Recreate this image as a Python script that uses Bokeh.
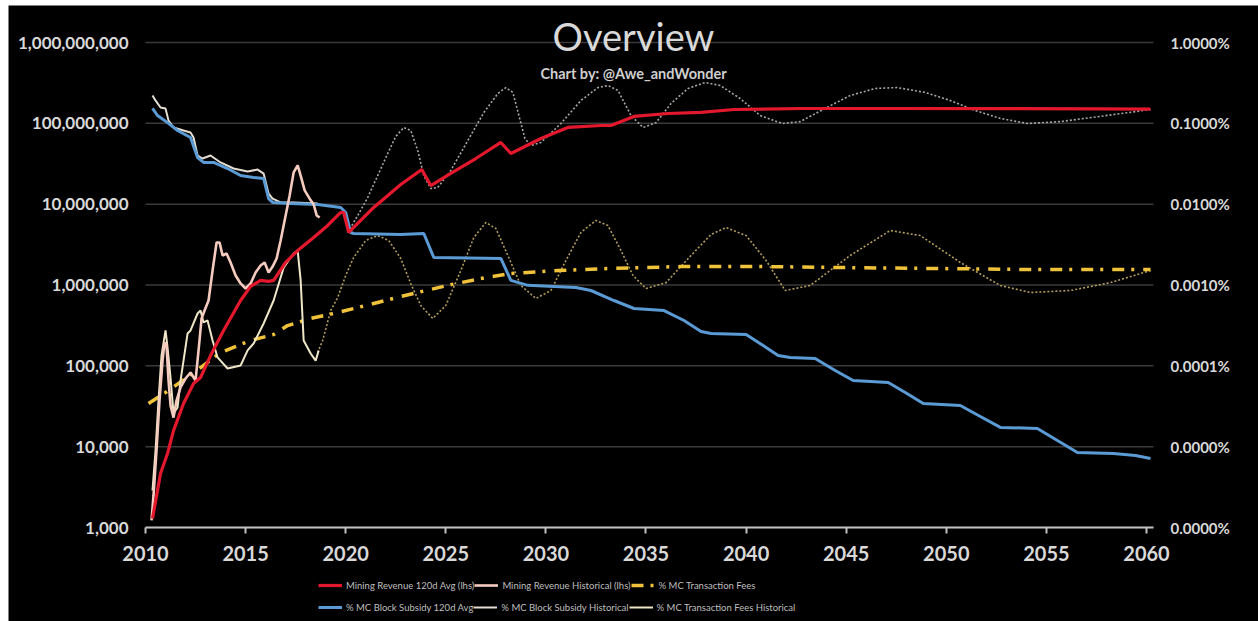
from bokeh.plotting import figure
from bokeh.models import (Range1d, LogScale, LogAxis, FixedTicker, NumeralTickFormatter,
                          PrintfTickFormatter, Legend, LegendItem, Label)
from bokeh.embed import file_html
from bokeh.resources import INLINE

# ---------------- data ----------------
# Mining Revenue 120d Avg (lhs, USD)
rev_avg_year = [2010.35, 2010.75, 2011.10, 2011.40, 2011.90, 2012.40, 2012.75, 2013.25, 2013.90,
                2014.75, 2015.25, 2015.75, 2016.15, 2016.40, 2017.00, 2017.60, 2018.40, 2019.10,
                2019.75, 2019.90, 2020.15, 2020.40, 2021.40, 2022.75, 2023.80, 2024.25, 2025.25,
                2026.50, 2027.75, 2028.25, 2028.75, 2029.75, 2031.10, 2032.75, 2033.25, 2034.40,
                2036.10, 2037.75, 2039.40, 2042.75, 2047.75, 2052.70, 2057.70, 2060.20]
rev_avg_usd = [1290, 4660, 8220, 15800, 34200, 60500, 71800, 134000, 274000,
               643000, 960000, 1140000, 1110000, 1140000, 1900000, 2670000, 3870000, 5450000,
               7890000, 7890000, 4470000, 5150000, 9100000, 17500000, 26800000, 17000000, 24000000,
               36700000, 58000000, 42400000, 48900000, 65000000, 88900000, 94000000, 94000000, 121600000,
               132400000, 136300000, 148300000, 152500000, 152500000, 152000000, 151000000, 150000000]

# Mining Revenue Historical (lhs, USD)
rev_hist_year = [2010.30, 2010.40, 2010.55, 2010.70, 2010.85, 2010.95, 2011.05, 2011.15, 2011.25,
                 2011.40, 2011.55, 2011.75, 2012.00, 2012.25, 2012.50, 2012.65, 2012.80, 2012.95,
                 2013.15, 2013.35, 2013.55, 2013.70, 2013.85, 2014.05, 2014.25, 2014.50, 2014.75,
                 2015.00, 2015.25, 2015.50, 2015.75, 2015.95, 2016.15, 2016.35, 2016.55, 2016.75,
                 2017.00, 2017.20, 2017.40, 2017.60, 2017.75, 2017.95, 2018.20, 2018.40, 2018.55, 2018.70]
rev_hist_usd = [1222, 2490, 8980, 37200, 116000, 194000, 178000, 65900, 32300,
                22900, 37200, 54000, 69700, 82800, 65900, 155000, 385000, 484000,
                643000, 1510000, 3360000, 3360000, 2320000, 2450000, 1900000, 1310000, 1045000,
                906000, 1045000, 1430000, 1740000, 1900000, 1430000, 1690000, 2130000, 3560000,
                7250000, 12800000, 24700000, 30100000, 22600000, 14800000, 11700000, 9910000, 7250000, 6840000]

# % MC Block Subsidy 120d Avg (rhs, %)
sub_avg_year = [2010.35, 2010.60, 2011.10, 2011.60, 2012.25, 2012.60, 2012.90, 2013.40, 2014.10,
                2014.75, 2015.40, 2015.90, 2016.15, 2016.35, 2017.25, 2018.60, 2019.75, 2020.00,
                2020.25, 2020.40, 2022.75, 2023.90, 2024.40, 2027.75, 2028.25, 2029.10, 2031.50,
                2032.25, 2033.40, 2034.40, 2035.90, 2036.90, 2037.75, 2038.25, 2040.00, 2040.85,
                2041.60, 2042.20, 2043.45, 2044.45, 2045.35, 2047.10, 2047.95, 2048.85, 2050.70,
                2051.70, 2052.70, 2054.55, 2055.55, 2056.55, 2058.35, 2059.45, 2060.20]
sub_avg_pct = [0.153, 0.125, 0.102, 0.0815, 0.0668, 0.0378, 0.0328, 0.0328, 0.0276,
               0.0226, 0.0214, 0.0208, 0.0117, 0.0105, 0.0102, 0.0099, 0.0091, 0.0079,
               0.00446, 0.00434, 0.00422, 0.00434, 0.00219, 0.00213, 0.00114, 0.00099, 0.00093,
               0.000855, 0.000643, 0.000512, 0.000483, 0.000364, 0.000266, 0.000251, 0.000244, 0.000178,
               0.000134, 0.000127, 0.000123, 0.0000875, 0.0000658, 0.0000622, 0.0000468, 0.0000342, 0.0000323,
               0.0000236, 0.0000173, 0.0000168, 0.0000119, 0.00000847, 0.00000823, 0.00000777, 0.00000713]

# % MC Block Subsidy Historical (rhs, %)
sub_hist_year = [2010.35, 2010.50, 2010.75, 2011.00, 2011.15, 2011.40, 2011.90, 2012.25, 2012.40,
                 2012.60, 2012.85, 2013.25, 2013.75, 2014.40, 2015.10, 2015.60, 2015.90, 2016.15,
                 2016.35, 2016.75, 2017.40, 2018.60]
sub_hist_pct = [0.221, 0.192, 0.157, 0.153, 0.108, 0.0888, 0.0815, 0.0770, 0.0668,
                0.0400, 0.0367, 0.0400, 0.0328, 0.0276, 0.0253, 0.0268, 0.0239, 0.0135,
                0.0117, 0.0105, 0.0105, 0.0102]

# % MC Transaction Fees (rhs, %)
fee_year = [2010.15, 2011.00, 2012.00, 2012.90, 2013.75, 2014.40, 2015.25, 2016.40, 2017.10,
            2018.25, 2019.40, 2021.00, 2022.75, 2025.25, 2026.75, 2028.25, 2030.60, 2033.10,
            2036.70, 2041.05, 2045.20, 2049.35, 2054.70, 2060.20]
fee_pct = [0.0000342, 0.0000468, 0.0000697, 0.000101, 0.000146, 0.000169, 0.000206, 0.000244, 0.000315,
           0.000385, 0.000444, 0.000557, 0.000721, 0.00101, 0.00120, 0.00139, 0.00151, 0.00160,
           0.00169, 0.00169, 0.00164, 0.00160, 0.00155, 0.00155]

# % MC Transaction Fees Historical (rhs, %)
fee_hist_year = [2010.35, 2010.50, 2010.65, 2010.80, 2011.00, 2011.10, 2011.25, 2011.40, 2011.60,
                 2011.75, 2011.90, 2012.10, 2012.25, 2012.60, 2012.75, 2012.90, 2013.10, 2013.35,
                 2013.60, 2014.10, 2014.75, 2015.10, 2015.40, 2015.90, 2016.40, 2016.90, 2017.15,
                 2017.40, 2017.60, 2017.75, 2017.90, 2018.25, 2018.50, 2018.65]
fee_hist_pct = [0.00000287, 0.00000896, 0.0000372, 0.000134, 0.000274, 0.000169, 0.0000716, 0.0000257, 0.0000305,
                0.0000658, 0.000116, 0.000251, 0.000274, 0.000444, 0.000483, 0.000344, 0.000364, 0.000206,
                0.000127, 0.0000927, 0.000101, 0.000155, 0.000189, 0.000334, 0.000643, 0.00164, 0.00201,
                0.00245, 0.00267, 0.00114, 0.000206, 0.000142, 0.000116, 0.000155]

# Projection of block subsidy share (dotted, rhs, %)
sub_proj_year = [2020.10, 2020.60, 2021.10, 2021.60, 2022.10, 2022.50, 2022.90, 2023.25, 2023.60,
                 2023.90, 2024.25, 2024.60, 2025.25, 2026.10, 2026.90, 2027.60, 2028.00, 2028.35,
                 2028.65, 2028.95, 2029.25, 2029.75, 2030.75, 2031.75, 2032.60, 2033.10, 2033.60,
                 2034.25, 2034.85, 2035.50, 2036.25, 2037.10, 2037.95, 2038.70, 2039.70, 2040.70,
                 2041.80, 2042.70, 2043.95, 2045.20, 2046.45, 2047.55, 2048.95, 2050.20, 2051.45,
                 2052.70, 2054.05, 2055.70, 2057.70, 2060.20]
sub_proj_pct = [0.00446, 0.00724, 0.0121, 0.0226, 0.0424, 0.0687, 0.0888, 0.0815, 0.0461,
                0.0226, 0.0156, 0.0161, 0.0261, 0.0613, 0.136, 0.234, 0.277, 0.241,
                0.125, 0.0649, 0.0532, 0.0579, 0.0995, 0.192, 0.277, 0.294, 0.255,
                0.125, 0.0888, 0.102, 0.176, 0.270, 0.320, 0.294, 0.203, 0.125,
                0.0995, 0.105, 0.153, 0.221, 0.270, 0.277, 0.241, 0.192, 0.144,
                0.115, 0.0995, 0.105, 0.122, 0.148]

# Projection of transaction fee share (dotted, rhs, %)
fee_proj_year = [2018.60, 2018.85, 2019.25, 2019.60, 2020.00, 2020.40, 2021.00, 2021.60, 2022.15,
                 2022.75, 2023.25, 2023.75, 2024.35, 2025.00, 2025.75, 2026.40, 2027.00, 2027.50,
                 2028.10, 2028.75, 2029.50, 2030.25, 2031.00, 2031.75, 2032.50, 2033.10, 2033.75,
                 2034.35, 2035.00, 2036.00, 2037.25, 2038.25, 2039.00, 2040.00, 2041.00, 2041.95,
                 2043.20, 2045.20, 2047.20, 2048.70, 2050.70, 2052.70, 2054.20, 2056.20, 2058.20, 2060.20]
fee_proj_pct = [0.000146, 0.000206, 0.000483, 0.000700, 0.00131, 0.00219, 0.00355, 0.00409, 0.00355,
                0.00213, 0.00104, 0.000557, 0.000385, 0.000557, 0.00151, 0.00387, 0.00593, 0.00500,
                0.00232, 0.000986, 0.000681, 0.000855, 0.00201, 0.00446, 0.00628, 0.00544, 0.00267,
                0.00131, 0.000905, 0.00107, 0.00232, 0.00422, 0.00514, 0.00409, 0.00201, 0.000855,
                0.000986, 0.00232, 0.00472, 0.00409, 0.00190, 0.000986, 0.000807, 0.000855, 0.00107, 0.00151]

x_ticks = [2010, 2015, 2020, 2025, 2030, 2035, 2040, 2045, 2050, 2055, 2060]
left_ticks = [1e3, 1e4, 1e5, 1e6, 1e7, 1e8, 1e9]
right_ticks = [1e-6, 1e-5, 1e-4, 1e-3, 1e-2, 1e-1, 1.0]
x_first, x_last = 2010.0, 2060.35   # extent of the plotted period (axis line, grid)

legend_labels = ["Mining Revenue 120d Avg (lhs)", "Mining Revenue Historical (lhs)",
                 "% MC Transaction Fees", "% MC Block Subsidy 120d Avg",
                 "% MC Block Subsidy Historical", "% MC Transaction Fees Historical"]

# ---------------- styling ----------------
FONT = "Lato"
RED = "#e3182d"
PINK = "#f6cbbf"
BLUE = "#5b9bd5"
WHITE = "#e4ddd2"
CREAM = "#eee6c6"
YELLOW = "#f0c23a"
GRAYDOT = "#a8a8a8"
YDOT = "#b39c5c"
TXT = "#d9d9d9"

W, H = 1250, 616
# layout of the value area inside the figure (px)
PX_LEFT, PX_RIGHT_OF_END = 137, 105
PX_TOP, PX_BOTTOM = 37, 94
DEC = (H - PX_TOP - PX_BOTTOM) / 6.0
PX_YEAR = (W - PX_LEFT - PX_RIGHT_OF_END) / (x_last - x_first)
x_lo = x_first - PX_LEFT / PX_YEAR
x_hi = x_last + PX_RIGHT_OF_END / PX_YEAR
y_top = 10 ** (9 + PX_TOP / DEC)
y_bot = 10 ** (3 - PX_BOTTOM / DEC)
pct_top = 10 ** (PX_TOP / DEC)
pct_bot = 10 ** (-6 - PX_BOTTOM / DEC)

p = figure(width=W, height=H, output_backend="svg", toolbar_location=None,
           y_axis_type="log", x_range=Range1d(x_lo, x_hi), y_range=Range1d(y_bot, y_top),
           min_border_left=0, min_border_right=0, min_border_top=0, min_border_bottom=0)
p.margin = (5, 0, 0, 8)
p.title.visible = False
p.background_fill_color = "black"
p.border_fill_color = "black"
p.outline_line_color = None

p.extra_y_ranges = {"pct": Range1d(pct_bot, pct_top)}
p.extra_y_scales = {"pct": LogScale()}

# horizontal grid lines, only across the plotted period
p.xgrid.visible = False
p.ygrid.visible = False
p.segment(x0=[x_first] * len(left_ticks), x1=[x_last] * len(left_ticks),
          y0=left_ticks, y1=left_ticks, line_color="#3a3a3a", line_width=1.5)

# x axis (drawn inside the frame at the 1,000 level)
xa = p.xaxis[0]
xa.fixed_location = 1e3
xa.bounds = (x_first, x_last)
xa.ticker = FixedTicker(ticks=x_ticks)
xa.axis_line_color = "#bfbfbf"
xa.axis_line_width = 2
xa.major_tick_line_color = "#bfbfbf"
xa.major_tick_line_width = 2
xa.major_tick_in = 0
xa.major_tick_out = 6
xa.minor_tick_line_color = None
xa.major_label_text_font = FONT
xa.major_label_text_font_style = "bold"
xa.major_label_text_font_size = "20px"
xa.major_label_text_color = TXT
xa.major_label_standoff = 12

# left axis
ya = p.yaxis[0]
ya.fixed_location = x_first
ya.ticker = FixedTicker(ticks=left_ticks)
ya.formatter = NumeralTickFormatter(format="0,0")
ya.axis_line_color = None
ya.major_tick_line_color = None
ya.minor_tick_line_color = None
ya.major_tick_out = 0
ya.major_tick_in = 0
ya.major_label_text_font = FONT
ya.major_label_text_font_style = "bold"
ya.major_label_text_font_size = "17px"
ya.major_label_text_color = TXT
ya.major_label_standoff = 17

# right axis
ra = LogAxis(y_range_name="pct", ticker=FixedTicker(ticks=right_ticks),
             formatter=PrintfTickFormatter(format="%.4f%%"), fixed_location=x_last)
ra.axis_line_color = None
ra.major_tick_line_color = None
ra.minor_tick_line_color = None
ra.major_tick_out = 0
ra.major_tick_in = 0
ra.major_label_text_font = FONT
ra.major_label_text_font_style = "bold"
ra.major_label_text_font_size = "15px"
ra.major_label_text_color = TXT
ra.major_label_standoff = 17
p.add_layout(ra, "right")

# ---------------- lines ----------------
p.line(sub_proj_year, sub_proj_pct, y_range_name="pct", line_color=GRAYDOT,
       line_width=1.6, line_dash="2 2")
p.line(fee_proj_year, fee_proj_pct, y_range_name="pct", line_color=YDOT,
       line_width=1.6, line_dash="2 2")
r_fee = p.line(fee_year, fee_pct, y_range_name="pct", line_color=YELLOW,
               line_width=3.5, line_dash="12 7 3 9")
r_feeh = p.line(fee_hist_year, fee_hist_pct, y_range_name="pct", line_color=CREAM, line_width=2)
r_subh = p.line(sub_hist_year, sub_hist_pct, y_range_name="pct", line_color=WHITE, line_width=2)
r_sub = p.line(sub_avg_year, sub_avg_pct, y_range_name="pct", line_color=BLUE, line_width=3)
r_revh = p.line(rev_hist_year, rev_hist_usd, line_color=PINK, line_width=2.6)
r_rev = p.line(rev_avg_year, rev_avg_usd, line_color=RED, line_width=3.2)

# legend: two rows of three entries, below the time axis
legend_renderers = [r_rev, r_revh, r_fee, r_sub, r_subh, r_feeh]
for row, loc in ((0, (310, 29)), (1, (310, 7))):
    items = [LegendItem(label=legend_labels[i], renderers=[legend_renderers[i]])
             for i in range(row * 3, row * 3 + 3)]
    lg = Legend(items=items, location=loc, orientation="horizontal")
    lg.background_fill_alpha = 0
    lg.border_line_alpha = 0
    lg.label_text_font = FONT
    lg.label_text_font_size = "9.5px"
    lg.label_text_color = "#bfbfbf"
    lg.glyph_width = 24
    lg.glyph_height = 14
    lg.label_standoff = 4
    lg.spacing = 0
    lg.padding = 0
    lg.margin = 0
    lg.label_height = 14
    p.add_layout(lg)

# title and subtitle
x_mid = x_first + (633 - 145) / PX_YEAR
p.add_layout(Label(x=x_mid, y=1.22e9, text="Overview", text_align="center",
                   text_baseline="alphabetic", text_font=FONT, text_font_size="38px",
                   text_color="#d9d9d9"))
p.add_layout(Label(x=x_mid, y=4.13e8, text="Chart by: @Awe_andWonder", text_align="center",
                   text_baseline="alphabetic", text_font=FONT, text_font_size="14.5px",
                   text_font_style="bold", text_color="#cfcfcf"))

open("out.html", "w").write(file_html(p, INLINE))
